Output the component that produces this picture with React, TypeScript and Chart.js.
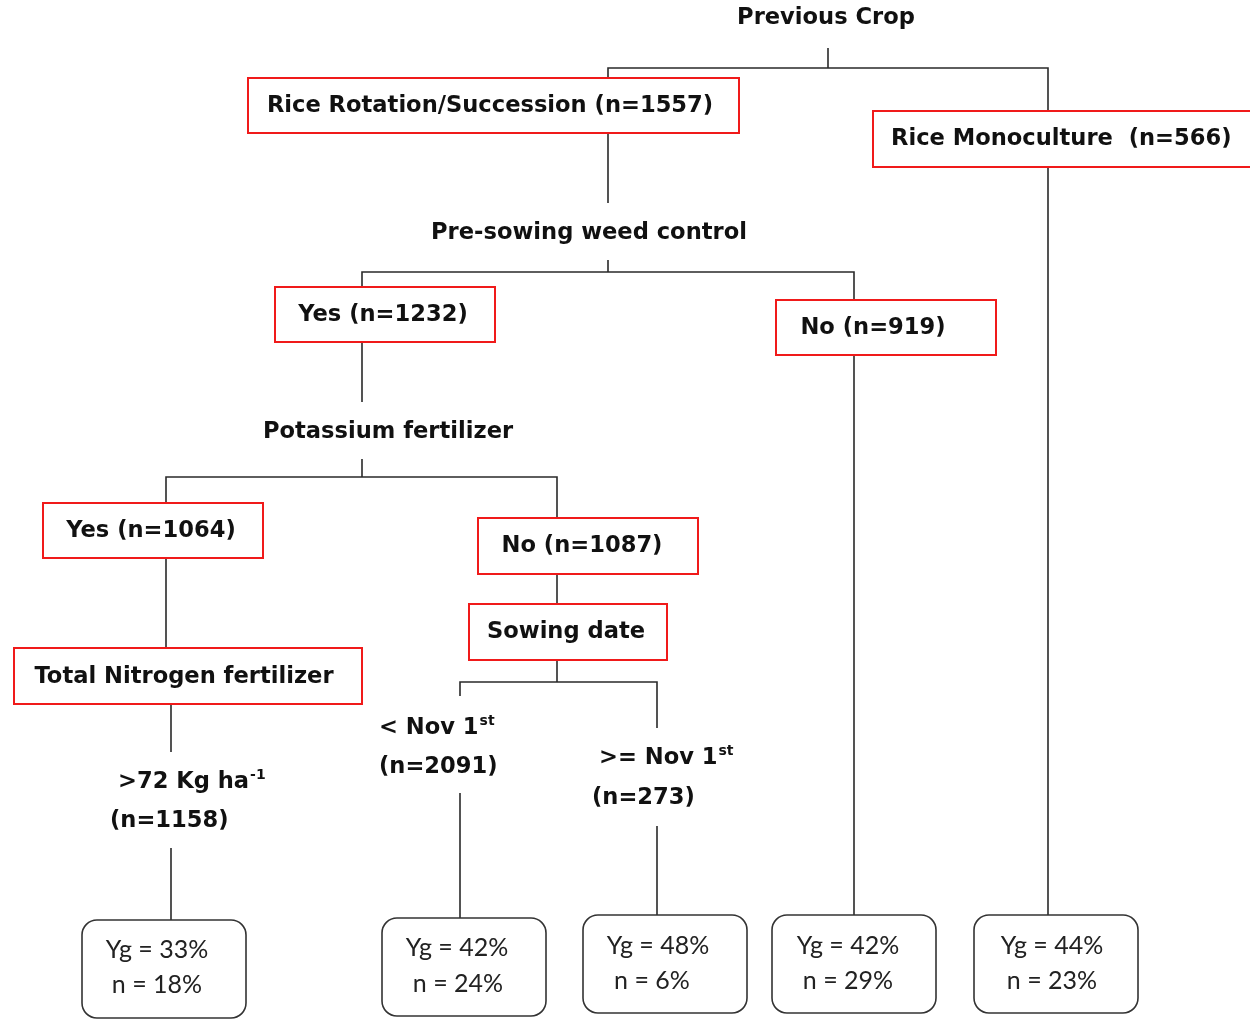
import React, { useEffect, useRef } from "react";
import { Chart, registerables } from "chart.js";

Chart.register(...registerables);

// ---------- content ----------
const splitTitles = ["Previous Crop", "Pre-sowing weed control", "Potassium fertilizer"];
const branchLabels = [
  "Rice Rotation/Succession (n=1557)",
  "Rice Monoculture  (n=566)",
  "Yes (n=1232)",
  "No (n=919)",
  "Yes (n=1064)",
  "No (n=1087)",
  "Sowing date",
  "Total Nitrogen fertilizer",
];
const conditionMain = ["< Nov 1", ">= Nov 1", ">72 Kg ha"];
const conditionSup = ["st", "st", "-1"];
const conditionCount = ["(n=2091)", "(n=273)", "(n=1158)"];
const leafYieldGap = [33, 42, 48, 42, 44];
const leafShare = [18, 24, 6, 29, 23];

// ---------- layout (diagram units, 1250 x 1023) ----------
const titleCenters = [
  [826, 18],
  [589, 233],
  [388, 432],
];
const branchRects = [
  [248, 78, 739, 133],
  [873, 111, 1256, 167],
  [275, 287, 495, 342],
  [776, 300, 996, 355],
  [43, 503, 263, 558],
  [478, 518, 698, 574],
  [469, 604, 667, 660],
  [14, 648, 362, 704],
];
const branchTextAnchor = [
  [490, 106, "c"],
  [891, 139, "l"],
  [383, 315, "c"],
  [873, 328, "c"],
  [151, 531, "c"],
  [582, 546, "c"],
  [566, 632, "c"],
  [184, 677, "c"],
];
const conditionAnchor = [
  [379, 728, 379, 767],
  [599, 758, 592, 798],
  [118, 782, 110, 821],
];
const leafRects = [
  [82, 920, 246, 1018],
  [382, 918, 546, 1016],
  [583, 915, 747, 1013],
  [772, 915, 936, 1013],
  [974, 915, 1138, 1013],
];
const leafTextX = [
  [157, 157],
  [457, 458],
  [658, 652],
  [848, 848],
  [1052, 1052],
];
const leafTextY = [
  [950, 985],
  [948, 984],
  [946, 981],
  [946, 981],
  [946, 981],
];
const connectors = [
  [[828, 48], [828, 68]],
  [[608, 78], [608, 68], [1048, 68], [1048, 111]],
  [[608, 133], [608, 203]],
  [[608, 260], [608, 272]],
  [[362, 287], [362, 272], [854, 272], [854, 300]],
  [[362, 342], [362, 402]],
  [[362, 459], [362, 477]],
  [[166, 503], [166, 477], [557, 477], [557, 518]],
  [[557, 574], [557, 604]],
  [[557, 660], [557, 682]],
  [[460, 696], [460, 682], [657, 682], [657, 728]],
  [[166, 558], [166, 648]],
  [[171, 704], [171, 752]],
  [[171, 848], [171, 920]],
  [[460, 793], [460, 918]],
  [[657, 826], [657, 915]],
  [[854, 355], [854, 915]],
  [[1048, 167], [1048, 915]],
];

const BOLD_FONT = "bold 22.6px 'DejaVu Sans'";
const SUP_FONT = "bold 14px 'DejaVu Sans'";
const LEAF_FONT = "25px Lato";

const treePlugin = {
  id: "treeNodes",
  afterDatasetsDraw(chart: any) {
    const ctx: CanvasRenderingContext2D = chart.ctx;
    const xs = chart.scales.x;
    const ys = chart.scales.y;
    const px = (v: number) => xs.getPixelForValue(v);
    const py = (v: number) => ys.getPixelForValue(v);
    ctx.save();
    ctx.textBaseline = "middle";

    // titles
    ctx.fillStyle = "#111";
    ctx.font = BOLD_FONT;
    ctx.textAlign = "center";
    splitTitles.forEach((t, i) => {
      ctx.fillText(t, px(titleCenters[i][0]), py(titleCenters[i][1]));
    });

    // red boxes
    branchLabels.forEach((t, i) => {
      const [x0, y0, x1, y1] = branchRects[i];
      ctx.fillStyle = "#fff";
      ctx.fillRect(px(x0), py(y0), px(x1) - px(x0), py(y1) - py(y0));
      ctx.strokeStyle = "#f01a1a";
      ctx.lineWidth = 2;
      ctx.strokeRect(px(x0), py(y0), px(x1) - px(x0), py(y1) - py(y0));
      const a = branchTextAnchor[i];
      ctx.fillStyle = "#111";
      ctx.font = BOLD_FONT;
      ctx.textAlign = a[2] === "l" ? "left" : "center";
      ctx.fillText(t, px(a[0] as number), py(a[1] as number));
    });

    // condition labels with superscripts
    conditionMain.forEach((t, i) => {
      const [mx, my, cx, cy] = conditionAnchor[i];
      ctx.fillStyle = "#111";
      ctx.font = BOLD_FONT;
      ctx.textAlign = "left";
      ctx.fillText(t, px(mx), py(my));
      const w = ctx.measureText(t).width;
      ctx.font = SUP_FONT;
      ctx.fillText(conditionSup[i], px(mx) + w + 1, py(my) - 7);
      ctx.font = BOLD_FONT;
      ctx.fillText(conditionCount[i], px(cx), py(cy));
    });

    // leaves
    leafYieldGap.forEach((yg, i) => {
      const [x0, y0, x1, y1] = leafRects[i];
      const X0 = px(x0), Y0 = py(y0), W = px(x1) - X0, H = py(y1) - Y0;
      ctx.beginPath();
      ctx.roundRect(X0, Y0, W, H, 15);
      ctx.fillStyle = "#fff";
      ctx.fill();
      ctx.strokeStyle = "#333";
      ctx.lineWidth = 1.6;
      ctx.stroke();
      ctx.fillStyle = "#222";
      ctx.font = LEAF_FONT;
      ctx.textAlign = "center";
      ctx.fillText(`Yg = ${yg}%`, px(leafTextX[i][0]), py(leafTextY[i][0]));
      ctx.fillText(`n = ${leafShare[i]}%`, px(leafTextX[i][1]), py(leafTextY[i][1]));
    });
    ctx.restore();
  },
};

export default function App() {
  const ref = useRef<HTMLCanvasElement | null>(null);
  useEffect(() => {
    document.body.style.margin = "0";
    document.body.style.background = "#fff";
    if (!ref.current) return;
    const chart = new Chart(ref.current, {
      type: "scatter",
      data: {
        datasets: connectors.map((seg) => ({
          data: seg.map(([x, y]) => ({ x, y })),
          showLine: true,
          borderColor: "#2a2a2a",
          borderWidth: 1.6,
          pointRadius: 0,
          fill: false,
          clip: false as any,
        })),
      },
      options: {
        animation: false,
        responsive: true,
        maintainAspectRatio: false,
        layout: { padding: 0 },
        plugins: { legend: { display: false }, tooltip: { enabled: false } },
        events: [],
        scales: {
          x: { type: "linear", min: 0, max: 1250, display: false },
          y: { type: "linear", min: 0, max: 1023, reverse: true, display: false },
        },
      },
      plugins: [treePlugin],
    });
    return () => chart.destroy();
  }, []);
  return (
    <div style={{ width: 1250, height: 1023, position: "relative", background: "#fff" }}>
      <canvas ref={ref} />
    </div>
  );
}
